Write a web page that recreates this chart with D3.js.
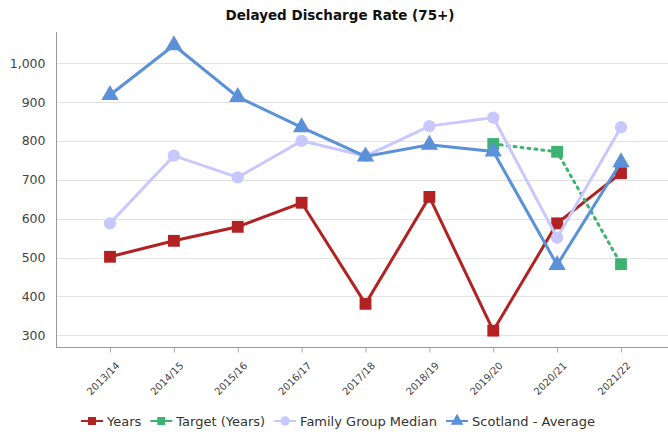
<!DOCTYPE html>
<html>
<head>
<meta charset="utf-8">
<script src="https://cdn.jsdelivr.net/npm/d3@7"></script>
<style>
  body { margin: 0; background: #fff; font-family: "DejaVu Sans", Verdana, sans-serif; }
  #chart { width: 668px; height: 434px; }
</style>
</head>
<body>
<div id="chart"></div>
<script>
const years = ['2013/14', '2014/15', '2015/16', '2016/17', '2017/18', '2018/19', '2019/20', '2020/21', '2021/22'];
const yearsValues = [502, 543, 579, 641, 381, 656, 312, 588, 717];
const targetValues = [null, null, null, null, null, null, 792, 772, 483];
const familyMedian = [588, 762, 706, 800, 761, 838, 860, 551, 835];
const scotlandAverage = [918, 1046, 913, 835, 760, 790, 773, 481, 745];
const yTicks = [300, 400, 500, 600, 700, 800, 900, 1000];

const series = [
  { name: 'Years', values: yearsValues, color: '#b22222', symbol: d3.symbolSquare, size: 140, dash: null },
  { name: 'Target (Years)', values: targetValues, color: '#3cb371', symbol: d3.symbolSquare, size: 140, dash: '2,5' },
  { name: 'Family Group Median', values: familyMedian, color: '#c8c8ff', symbol: d3.symbolCircle, size: 120, dash: null },
  { name: 'Scotland - Average', values: scotlandAverage, color: '#5b91d9', symbol: d3.symbolTriangle, size: 130, dash: null }
];

const W = 668, H = 434;
const plot = { left: 56, right: 668, top: 32, bottom: 347 };

const svg = d3.select('#chart').append('svg')
  .attr('width', W).attr('height', H);

const x = d3.scalePoint().domain(years).range([110, 621]);
const y = d3.scaleLinear().domain([270, 1080]).range([plot.bottom, plot.top]);

// Title
svg.append('text')
  .attr('x', 340).attr('y', 20)
  .attr('text-anchor', 'middle')
  .style('font-size', '13.5px').style('font-weight', 'bold').style('fill', '#111')
  .text('Delayed Discharge Rate (75+)');

// Gridlines
svg.append('g').selectAll('line')
  .data(yTicks).enter().append('line')
  .attr('x1', plot.left).attr('x2', plot.right)
  .attr('y1', d => Math.round(y(d)) + 0.5).attr('y2', d => Math.round(y(d)) + 0.5)
  .style('stroke', '#e2e2e2').style('stroke-width', 1);

// Y axis
const yAxis = d3.axisLeft(y).tickValues(yTicks).tickSize(0).tickPadding(11).tickFormat(d3.format(','));
const gy = svg.append('g').attr('transform', `translate(${plot.left + 0.5},0)`).call(yAxis);
gy.select('.domain').attr('d', `M0,${plot.top}V${plot.bottom}`).style('stroke', '#999');
gy.selectAll('text').style('font-size', '12.5px').style('fill', '#444').style('font-family', '"DejaVu Sans", sans-serif');

// X axis
const xAxis = d3.axisBottom(x).tickSize(5).tickPadding(4);
const gx = svg.append('g').attr('transform', `translate(0,${plot.bottom + 0.5})`).call(xAxis);
gx.select('.domain').attr('d', `M${plot.left},0H${plot.right}`).style('stroke', '#999');
gx.selectAll('line').style('stroke', '#aaa');
gx.selectAll('text')
  .style('font-size', '10px').style('fill', '#444').style('font-family', '"DejaVu Sans", sans-serif')
  .attr('text-anchor', 'end')
  .attr('dy', '0.35em')
  .attr('transform', 'translate(1,10) rotate(-45)');

// Lines
const line = d3.line()
  .defined(d => d != null)
  .x((d, i) => x(years[i]))
  .y(d => y(d));

series.forEach(s => {
  svg.append('path')
    .datum(s.values)
    .attr('d', line)
    .style('fill', 'none')
    .style('stroke', s.color)
    .style('stroke-width', 3)
    .style('stroke-linecap', s.dash ? 'round' : 'butt')
    .style('stroke-dasharray', s.dash);

  svg.append('g').selectAll('path')
    .data(s.values.map((v, i) => ({ v, i })).filter(d => d.v != null))
    .enter().append('path')
    .attr('d', d3.symbol().type(s.symbol).size(s.size))
    .attr('transform', d => `translate(${x(years[d.i])},${y(d.v)})`)
    .style('fill', s.color);
});

// Legend
const legend = svg.append('g').attr('transform', 'translate(81,421)');
let lx = 0;
series.forEach(s => {
  const g = legend.append('g').attr('transform', `translate(${lx},0)`);
  g.append('line').attr('x1', 0).attr('x2', 22).attr('y1', 0).attr('y2', 0)
    .style('stroke', s.color).style('stroke-width', 2);
  g.append('path')
    .attr('d', d3.symbol().type(s.symbol).size(s.symbol === d3.symbolSquare ? 64 : 70))
    .attr('transform', 'translate(11,0)')
    .style('fill', s.color);
  const t = g.append('text')
    .attr('x', 26).attr('y', 0).attr('dy', '0.35em')
    .style('font-size', '13px').style('fill', '#333')
    .text(s.name);
  lx += 26 + t.node().getComputedTextLength() + 9;
});
</script>
</body>
</html>
